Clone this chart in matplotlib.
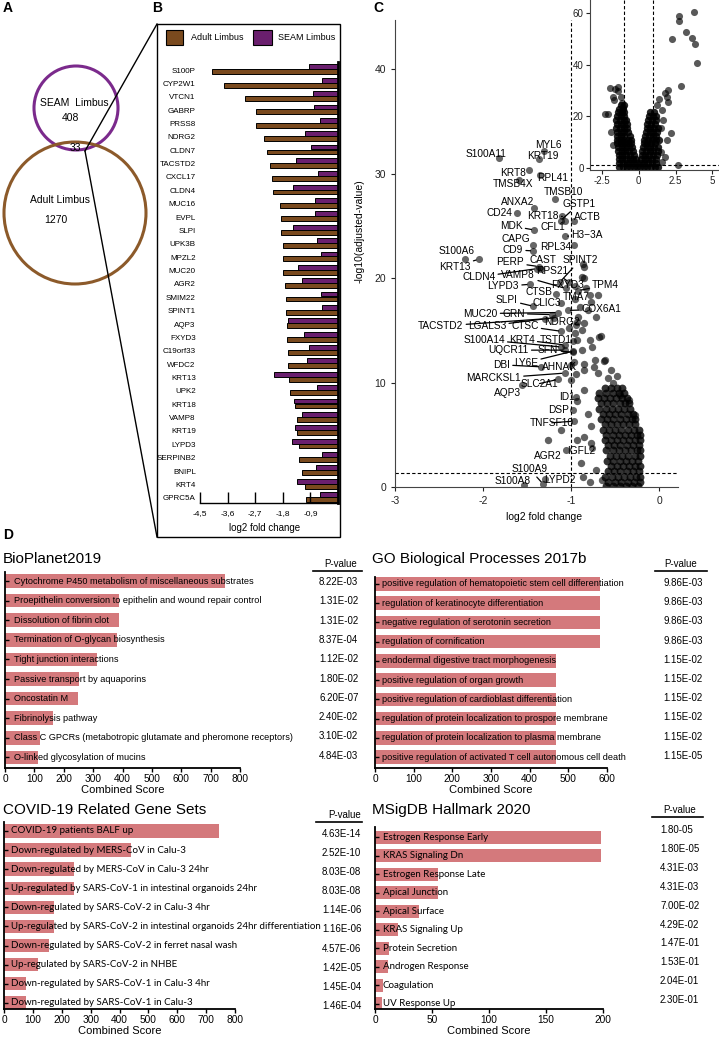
import numpy as np
import matplotlib
matplotlib.use('Agg')
import matplotlib.pyplot as plt
from matplotlib.patches import Circle, Rectangle

plt.rcParams['font.family'] = ['Liberation Sans', 'DejaVu Sans']
plt.rcParams['axes.unicode_minus'] = False

# ---------------- data ----------------
# A: Venn counts
seam_only = 408
overlap = 33
adult_only = 1270

# B: shared genes, log2 fold change
genes_B = ['S100P', 'CYP2W1', 'VTCN1', 'GABRP', 'PRSS8', 'NDRG2', 'CLDN7', 'TACSTD2',
           'CXCL17', 'CLDN4', 'MUC16', 'EVPL', 'SLPI', 'UPK3B', 'MPZL2', 'MUC20', 'AGR2',
           'SMIM22', 'SPINT1', 'AQP3', 'FXYD3', 'C19orf33', 'WFDC2', 'KRT13', 'UPK2',
           'KRT18', 'VAMP8', 'KRT19', 'LYPD3', 'SERPINB2', 'BNIPL', 'KRT4', 'GPRC5A']
adult_lfc = [-4.11, -3.73, -3.03, -2.67, -2.67, -2.40, -2.31, -2.22, -2.16, -2.11, -1.89,
             -1.87, -1.86, -1.79, -1.79, -1.79, -1.73, -1.68, -1.68, -1.66, -1.66, -1.62,
             -1.62, -1.59, -1.57, -1.39, -1.35, -1.33, -1.27, -1.27, -1.17, -1.06, -1.03]
seam_lfc = [-0.94, -0.52, -0.83, -0.79, -0.60, -1.06, -0.87, -1.37, -0.65, -1.48, -0.76,
            -0.76, -1.46, -0.70, -0.55, -1.30, -1.19, -0.57, -0.52, -1.62, -1.11, -0.94,
            -1.00, -2.09, -0.67, -1.44, -1.19, -1.41, -1.49, -0.52, -0.73, -1.33, -0.60]
b_ticks = [-4.5, -3.6, -2.7, -1.8, -0.9]
b_ticklabels = ['-4,5', '-3,6', '-2,7', '-1,8', '-0,9']

# C: labelled genes (point x, point y, label x, label y)
volcano_labels = [
    ('S100A11', -1.82, 31.5, -1.97, 31.9), ('MYL6', -1.31, 32.2, -1.26, 32.7),
    ('KRT19', -1.36, 31.4, -1.32, 31.7), ('KRT8', -1.48, 30.3, -1.66, 30.1),
    ('RPL41', -1.35, 29.9, -1.21, 29.6), ('TMSB4X', -1.59, 29.4, -1.66, 29.0),
    ('TMSB10', -1.18, 27.6, -1.09, 28.2), ('ANXA2', -1.42, 26.7, -1.61, 27.3),
    ('GSTP1', -1.12, 25.5, -0.91, 27.1), ('CD24', -1.61, 26.2, -1.81, 26.2),
    ('KRT18', -1.10, 25.9, -1.32, 25.9), ('ACTB', -0.97, 25.5, -0.81, 25.8),
    ('CFL1', -1.07, 25.5, -1.21, 24.85), ('MDK', -1.42, 24.6, -1.68, 25.0),
    ('H3\u22123A', -1.07, 24.0, -0.82, 24.1), ('CAPG', -1.43, 23.2, -1.63, 23.7),
    ('RPL34', -0.97, 23.2, -1.17, 23.0), ('CD9', -1.43, 22.6, -1.66, 22.7),
    ('S100A6', -2.21, 21.8, -2.30, 22.6), ('KRT13', -2.05, 21.8, -2.32, 21.1),
    ('PERP', -1.37, 21.1, -1.69, 21.5), ('CAST', -1.34, 20.9, -1.32, 21.7),
    ('SPINT2', -1.13, 19.6, -0.90, 21.7), ('CLDN4', -1.39, 20.9, -2.05, 20.1),
    ('VAMP8', -1.06, 19.0, -1.60, 20.3), ('RPS21', -1.02, 19.6, -1.22, 20.7),
    ('LYPD3', -1.47, 19.4, -1.77, 19.2), ('CTSB', -1.17, 18.5, -1.37, 18.7),
    ('FXYD3', -0.96, 19.2, -1.04, 19.3), ('TPM4', -0.92, 18.8, -0.61, 19.3),
    ('TMA7', -0.79, 18.4, -0.94, 18.2), ('SLPI', -1.43, 17.3, -1.73, 17.9),
    ('CLIC3', -1.12, 17.6, -1.28, 17.6), ('MUC20', -1.15, 16.7, -2.03, 16.6),
    ('GRN', -1.22, 16.5, -1.655, 16.6), ('COX6A1', -1.04, 16.9, -0.66, 17.0),
    ('NDRG2', -0.94, 15.5, -1.11, 15.8), ('TACSTD2', -1.30, 16.1, -2.48, 15.4),
    ('LGALS3', -1.20, 16.2, -1.955, 15.4), ('CTSC', -1.11, 14.9, -1.525, 15.4),
    ('S100A14', -1.11, 13.4, -1.99, 14.1), ('KRT4', -1.075, 13.6, -1.56, 14.1),
    ('TSTD1', -0.98, 14.0, -1.17, 14.1), ('UQCR11', -1.075, 13.1, -1.71, 13.1),
    ('SFN', -0.98, 12.9, -1.26, 13.1), ('DBI', -1.34, 11.5, -1.79, 11.7),
    ('LY6E', -0.98, 13.0, -1.51, 11.9), ('AHNAK', -1.00, 11.7, -1.13, 11.5),
    ('MARCKSL1', -1.075, 10.9, -1.88, 10.4), ('SLC2A1', -1.15, 10.3, -1.36, 9.9),
    ('AQP3', -1.56, 9.75, -1.72, 9.0), ('ID1', -0.95, 8.6, -1.045, 8.6),
    ('DSP', -0.98, 7.4, -1.14, 7.4), ('TNFSF10', -0.97, 6.3, -1.22, 6.15),
    ('IGFL2', -0.76, 3.7, -0.89, 3.4), ('AGR2', -1.06, 3.5, -1.26, 3.0),
    ('S100A9', -1.32, 0.3, -1.47, 1.7), ('S100A8', -1.54, 0.2, -1.67, 0.6),
    ('LYPD2', -1.30, 0.74, -1.13, 0.67),
]
# C: unlabelled genes, dense part given row by row (-log10 padj: log2FC values)
main_rows = {
    9.5: [-0.62, -0.55, -0.48, -0.42],
    9.0: [-0.68, -0.60, -0.53, -0.46, -0.40],
    8.5: [-0.70, -0.63, -0.56, -0.49, -0.42, -0.37],
    8.0: [-0.66, -0.59, -0.52, -0.45, -0.39, -0.34],
    7.5: [-0.68, -0.61, -0.54, -0.47, -0.40, -0.33],
    7.0: [-0.64, -0.57, -0.50, -0.43, -0.36, -0.30],
    6.5: [-0.66, -0.59, -0.52, -0.45, -0.38, -0.31, -0.27],
    6.0: [-0.62, -0.55, -0.48, -0.41, -0.34, -0.27],
    5.5: [-0.64, -0.57, -0.50, -0.43, -0.36, -0.29, -0.23],
    5.0: [-0.60, -0.53, -0.46, -0.39, -0.32, -0.25, -0.22],
    4.5: [-0.62, -0.55, -0.48, -0.41, -0.34, -0.27, -0.22],
    4.0: [-0.58, -0.51, -0.44, -0.37, -0.30, -0.23],
    3.5: [-0.60, -0.53, -0.46, -0.39, -0.32, -0.25, -0.22],
    3.0: [-0.56, -0.49, -0.42, -0.35, -0.28, -0.22],
    2.5: [-0.59, -0.52, -0.45, -0.38, -0.31, -0.24],
    2.0: [-0.55, -0.48, -0.41, -0.34, -0.27, -0.22],
    1.5: [-0.58, -0.51, -0.44, -0.37, -0.30, -0.23],
    1.0: [-0.62, -0.54, -0.47, -0.40, -0.33, -0.26, -0.22],
    0.5: [-0.58, -0.50, -0.43, -0.36, -0.29, -0.22],
    0.1: [-0.60, -0.52, -0.45, -0.38, -0.31, -0.24],
}
main_extra = [(-0.85, 21.1), (-0.88, 20.1), (-0.83, 19.0), (-0.70, 18.4), (-0.78, 17.7),
              (-0.72, 16.3), (-0.88, 15.0), (-0.68, 14.4), (-0.79, 14.1), (-0.85, 15.7),
              (-0.92, 16.3), (-0.62, 12.2), (-0.73, 12.2), (-0.88, 13.1), (-0.85, 11.2),
              (-0.70, 10.9), (-0.96, 14.7), (-0.93, 15.8), (-0.81, 16.9), (-0.87, 21.3),
              (-0.85, 20.0), (-0.66, 14.5), (-0.76, 13.4), (-0.93, 14.1), (-0.55, 11.2),
              (-0.48, 10.6), (-0.74, 11.5), (-0.85, 11.8), (-0.63, 12.1), (-0.44, 8.8),
              (-0.34, 8.3), (-0.27, 6.9), (-0.85, 9.3), (-0.93, 8.2), (-0.81, 7.0),
              (-0.78, 5.8), (-0.93, 4.5), (-0.85, 4.8), (-0.78, 4.2), (-0.89, 2.3),
              (-0.87, 1.0), (-0.72, 1.6), (-0.79, 0.5), (-0.65, 0.7), (-1.11, 5.5),
              (-1.26, 4.5), (-1.00, 10.2), (-0.95, 10.8), (-0.97, 12.0), (-1.02, 15.2),
              (-0.90, 17.2), (-0.96, 18.0), (-0.58, 10.4), (-0.52, 10.0)]
# C inset: all genes
inset_rows = {
    0.5: [-1.30, -1.05, -0.80, -0.55, -0.30, -0.10, 0.12, 0.35, 0.60, 0.85, 1.10, 1.30],
    2.0: [-1.30, -1.05, -0.80, -0.55, -0.30, -0.12, 0.15, 0.40, 0.65, 0.90, 1.15],
    3.5: [-1.35, -1.10, -0.85, -0.60, -0.35, -0.20, 0.18, 0.42, 0.67, 0.92, 1.20],
    5.0: [-1.35, -1.10, -0.85, -0.60, -0.30, 0.22, 0.46, 0.70, 0.95, 1.25],
    6.5: [-1.40, -1.15, -0.90, -0.65, -0.38, 0.25, 0.50, 0.75, 1.00, 1.30],
    8.0: [-1.40, -1.15, -0.90, -0.65, -0.42, 0.30, 0.55, 0.80, 1.05, 1.35],
    9.5: [-1.45, -1.20, -0.95, -0.70, -0.50, 0.35, 0.60, 0.85, 1.10],
    11.0: [-1.45, -1.20, -0.95, -0.70, -0.52, 0.40, 0.65, 0.90, 1.15, 1.40],
    12.5: [-1.45, -1.20, -0.95, -0.60, 0.45, 0.70, 0.95, 1.20],
    14.0: [-1.45, -1.20, -0.95, -0.68, 0.50, 0.75, 1.00, 1.25],
    15.5: [-1.50, -1.25, -1.00, -0.75, 0.55, 0.80, 1.05, 1.30],
    17.0: [-1.45, -1.20, -0.95, -0.80, 0.60, 0.85, 1.10],
    18.5: [-1.50, -1.25, -1.00, -0.85, 0.65, 0.90, 1.15],
    20.0: [-1.45, -1.20, -0.95, 0.70, 0.95, 1.20],
    21.5: [-1.40, -1.15, -0.95, 0.80, 1.05],
    23.0: [-1.30, -1.05],
    24.5: [-1.20, -1.00],
}
inset_extra = [(2.76, 58.7), (2.76, 56.9), (3.77, 60.5), (3.19, 52.6), (3.64, 50.3),
               (3.82, 48.1), (3.95, 40.8), (2.28, 50.1), (2.87, 31.6), (2.65, 1.0),
               (2.01, 30.1), (1.79, 29.0), (1.90, 27.3), (1.39, 26.6), (1.97, 25.6),
               (1.23, 24.4), (1.61, 22.4), (2.18, 13.4), (1.91, 10.8), (1.52, 6.3),
               (1.79, 4.4), (1.57, 2.4), (1.52, 15.4), (1.68, 18.6), (-1.93, 30.8),
               (-1.59, 30.4), (-1.36, 31.2), (-1.41, 29.9), (-1.64, 26.3), (-1.14, 25.0),
               (-1.03, 23.7), (-2.26, 20.8), (-2.08, 20.8), (-1.70, 8.9), (-1.75, 27.5),
               (-1.20, 27.5), (-1.85, 14.0)]

# D: enrichment results
bio_terms = ['Cytochrome P450 metabolism of miscellaneous substrates',
             'Proepithelin conversion to epithelin and wound repair control',
             'Dissolution of fibrin clot', 'Termination of O-glycan biosynthesis',
             'Tight junction interactions', 'Passive transport by aquaporins', 'Oncostatin M',
             'Fibrinolysis pathway',
             'Class C GPCRs (metabotropic glutamate and pheromone receptors)',
             'O-linked glycosylation of mucins']
bio_scores = [750, 388, 388, 380, 312, 252, 249, 164, 119, 111]
bio_p = ['8.22E-03', '1.31E-02', '1.31E-02', '8.37E-04', '1.12E-02', '1.80E-02',
         '6.20E-07', '2.40E-02', '3.10E-02', '4.84E-03']

go_terms = ['positive regulation of hematopoietic stem cell differentiation',
            'regulation of keratinocyte differentiation',
            'negative regulation of serotonin secretion', 'regulation of cornification',
            'endodermal digestive tract morphogenesis',
            'positive regulation of organ growth',
            'positive regulation of cardioblast differentiation',
            'regulation of protein localization to prospore membrane',
            'regulation of protein localization to plasma membrane',
            'positive regulation of activated T cell autonomous cell death']
go_scores = [581, 581, 581, 581, 468, 468, 468, 468, 468, 468]
go_p = ['9.86E-03', '9.86E-03', '9.86E-03', '9.86E-03', '1.15E-02', '1.15E-02',
        '1.15E-02', '1.15E-02', '1.15E-02', '1.15E-05']

covid_terms = ['COVID-19 patients BALF up', 'Down-regulated by MERS-CoV in Calu-3',
               'Down-regulated by MERS-CoV in Calu-3 24hr',
               'Up-regulated by SARS-CoV-1 in intestinal organoids 24hr',
               'Down-regulated by SARS-CoV-2 in Calu-3 4hr',
               'Up-regulated by SARS-CoV-2 in intestinal organoids 24hr differentiation',
               'Down-regulated by SARS-CoV-2 in ferret nasal wash',
               'Up-regulated by SARS-CoV-2 in NHBE',
               'Down-regulated by SARS-CoV-1 in Calu-3 4hr',
               'Down-regulated by SARS-CoV-1 in Calu-3']
covid_scores = [746, 440, 242, 242, 173, 173, 157, 119, 76, 76]
covid_p = ['4.63E-14', '2.52E-10', '8.03E-08', '8.03E-08', '1.14E-06', '1.16E-06',
           '4.57E-06', '1.42E-05', '1.45E-04', '1.46E-04']

msig_terms = ['Estrogen Response Early', 'KRAS Signaling Dn', 'Estrogen Response Late',
              'Apical Junction', 'Apical Surface', 'KRAS Signaling Up', 'Protein Secretion',
              'Androgen Response', 'Coagulation', 'UV Response Up']
msig_scores = [198, 198, 54.9, 54.9, 38.8, 20.4, 12.6, 11.7, 7.3, 5.8]
msig_p = ['1.80-05', '1.80E-05', '4.31E-03', '4.31E-03', '7.00E-02', '4.29E-02',
          '1.47E-01', '1.53E-01', '2.04E-01', '2.30E-01']

# ---------------- colours ----------------
venn_purple = '#7b2a8c'
venn_brown = '#8c5a2a'
adult_col = '#7a4a1e'
seam_col = '#6a1f6e'
bar_red = '#d4797c'
narrow = ['Liberation Sans Narrow', 'Liberation Sans']

# ---------------- figure ----------------
W, H = 719, 1039
fig = plt.figure(figsize=(W / 100, H / 100), dpi=100)


def box(l, t, r, b):
    # pixel box (top-left origin) -> figure fraction rect
    return [l / W, 1 - b / H, (r - l) / W, (b - t) / H]


# overlay in pixel coordinates for venn, frames, titles, p-value columns
ov = fig.add_axes([0, 0, 1, 1], zorder=10)
ov.set_xlim(0, W)
ov.set_ylim(H, 0)
ov.axis('off')

for lab, x, y in [('A', 8, 8), ('B', 157, 8), ('C', 378, 8), ('D', 8, 535)]:
    ov.text(x, y, lab, ha='center', va='center', fontsize=10, weight='bold')

# Panel A
ov.add_patch(Circle((76, 108), 42, fill=False, ec=venn_purple, lw=2.2))
ov.add_patch(Circle((75, 213), 71, fill=False, ec=venn_brown, lw=2.2))
ov.text(74, 103, 'SEAM  Limbus', ha='center', va='center', fontsize=7.5)
ov.text(70, 118, str(seam_only), ha='center', va='center', fontsize=7.5)
ov.text(75, 148, str(overlap), ha='center', va='center', fontsize=7.5)
ov.text(60, 200, 'Adult Limbus', ha='center', va='center', fontsize=7.5)
ov.text(56, 220, str(adult_only), ha='center', va='center', fontsize=7.5)

# zoom lines and frame of B
ov.plot([85, 157], [151, 24], color='k', lw=1)
ov.plot([85, 157], [151, 537], color='k', lw=1)
ov.add_patch(Rectangle((157, 24), 183, 513, fill=False, ec='k', lw=1))

# legend of B
ov.add_patch(Rectangle((166, 30), 17, 15, fc=adult_col, ec='k', lw=0.8))
ov.text(191, 37.5, 'Adult Limbus', va='center', fontsize=6.5)
ov.add_patch(Rectangle((253, 30), 19, 15, fc=seam_col, ec='k', lw=0.8))
ov.text(278, 37.5, 'SEAM Limbus', va='center', fontsize=6.5)

# Panel B
axB = fig.add_axes(box(200, 62, 338, 503))
rows = np.arange(len(genes_B))
axB.barh(rows - 0.24, seam_lfc, height=0.36, color=seam_col, ec='k', lw=0.7)
axB.barh(rows + 0.13, adult_lfc, height=0.36, color=adult_col, ec='k', lw=0.7)
axB.set_xlim(-4.5, 0)
axB.set_ylim(32.39, -0.6)
axB.spines['top'].set_visible(False)
axB.spines['left'].set_visible(False)
axB.spines['right'].set_linewidth(2)
axB.spines['bottom'].set_linewidth(1)
axB.set_yticks(rows)
axB.set_yticklabels(genes_B, family=narrow, fontsize=5.8)
axB.tick_params(axis='y', length=0, pad=3)
axB.set_xticks(b_ticks)
axB.set_xticklabels(b_ticklabels, family=narrow, fontsize=6)
axB.tick_params(axis='x', direction='in', length=8, width=1, pad=5)
axB.set_xlabel('log2 fold change', fontsize=7)
axB.xaxis.set_label_coords(0.471, -0.045)

# Panel C main volcano
axC = fig.add_axes(box(395, 20, 678, 487))
rx = [x for y, xs in main_rows.items() for x in xs]
ry = [y for y, xs in main_rows.items() for x in xs]
axC.scatter(rx, ry, s=32, c='k', alpha=0.8, lw=0)
axC.scatter([p[0] for p in main_extra], [p[1] for p in main_extra],
            s=28, c='k', alpha=0.62, lw=0)
axC.scatter([v[1] for v in volcano_labels], [v[2] for v in volcano_labels],
            s=26, c='k', alpha=0.6, lw=0)
axC.axvline(-1, ls=(0, (3, 2)), lw=0.8, color='k')
axC.axhline(1.3, ls=(0, (3, 2)), lw=0.8, color='k')
axC.set_xlim(-2.97, 0.213)
axC.set_ylim(0, 44.7)
axC.set_xticks([-3, -2, -1, 0])
axC.set_yticks([0, 10, 20, 30, 40])
for sp in ['top', 'right']:
    axC.spines[sp].set_visible(False)
for sp in ['left', 'bottom']:
    axC.spines[sp].set_color('#444444')
axC.tick_params(length=3, width=0.8, labelsize=7.5, colors='#222222')
axC.set_xlabel('log2 fold change', fontsize=7.5)
axC.xaxis.set_label_coords(0.527, -0.054)
axC.set_ylabel('-log10(adjusted-value)', fontsize=7.5)
axC.yaxis.set_label_coords(-0.108, 0.548)
for name, px, py, lx, ly in volcano_labels:
    dist = np.hypot((lx - px) * 89, (ly - py) * 10.45)
    if dist > 19:
        axC.annotate(name, (px, py), xytext=(lx, ly), fontsize=7.3, ha='center',
                     va='center', arrowprops=dict(arrowstyle='-', color='k', lw=0.9,
                                                  shrinkA=0, shrinkB=2))
    else:
        axC.text(lx, ly, name, fontsize=7.3, ha='center', va='center')

# Panel C inset
axI = fig.add_axes(box(590, 0, 719, 170))
ix = [x for y, xs in inset_rows.items() for x in xs]
iy = [y for y, xs in inset_rows.items() for x in xs]
axI.scatter(ix, iy, s=28, c='k', alpha=0.85, lw=0)
axI.scatter([p[0] for p in inset_extra], [p[1] for p in inset_extra],
            s=26, c='k', alpha=0.65, lw=0)
for xv in (-1, 1):
    axI.axvline(xv, ls=(0, (3, 2)), lw=0.8, color='k')
axI.axhline(1.3, ls=(0, (3, 2)), lw=0.8, color='k')
axI.set_xlim(-3.28, 5.44)
axI.set_ylim(-0.77, 65)
axI.set_xticks([-2.5, 0, 2.5, 5])
axI.set_xticklabels(['-2.5', '0', '2.5', '5'])
axI.set_yticks([0, 20, 40, 60])
for sp in ['top', 'right']:
    axI.spines[sp].set_visible(False)
for sp in ['left', 'bottom']:
    axI.spines[sp].set_color('#444444')
axI.tick_params(length=3, width=0.8, labelsize=7, colors='#222222', pad=1.5)


# Panel D
def enrich_panel(rect, ylim, xmax, xstep, terms, scores, font, size, offset):
    ax = fig.add_axes(box(*rect))
    y = np.arange(len(terms))
    ax.barh(y, scores, height=0.7, color=bar_red)
    ax.set_ylim(*ylim)
    ax.set_xlim(0, xmax)
    for sp in ['top', 'right']:
        ax.spines[sp].set_visible(False)
    for sp in ['left', 'bottom']:
        ax.spines[sp].set_linewidth(1.3)
    ax.set_yticks(y)
    ax.set_yticklabels([])
    ax.tick_params(axis='y', direction='in', length=3, width=1)
    ax.set_xticks(np.arange(0, xmax + 1, xstep))
    ax.tick_params(axis='x', direction='out', length=3, width=1, labelsize=7.3, pad=1)
    ax.set_xlabel('Combined Score', fontsize=8, labelpad=1)
    for yi, t in zip(y, terms):
        ax.annotate(t, (0, yi), xytext=(offset, 0), textcoords='offset points',
                    ha='left', va='center', fontsize=size, family=font,
                    annotation_clip=False)
    return ax


def pvalue_column(hx, hy, x0, x1, ly, vx, vy0, step, vals):
    ov.text(hx, hy, 'P-value', ha='center', va='center', fontsize=7)
    ov.plot([x0, x1], [ly, ly], color='k', lw=1.2)
    for i, v in enumerate(vals):
        ov.text(vx, vy0 + i * step, v, ha='left', va='center', fontsize=7)


enrich_panel((5, 572, 240, 768), (9.54, -0.46), 800, 100, bio_terms, bio_scores,
             'Liberation Sans', 6.6, 6.5)
ov.text(3, 559, 'BioPlanet2019', va='center', fontsize=11)
pvalue_column(341, 564, 313, 362, 571, 319, 582, 19.3, bio_p)

enrich_panel((375, 577, 607, 768), (9.57, -0.36), 600, 100, go_terms, go_scores,
             'Liberation Sans', 6.6, 5)
ov.text(372, 559, 'GO Biological Processes 2017b', va='center', fontsize=11)
pvalue_column(681, 564, 655, 707, 571, 663, 583, 19.2, go_p)

enrich_panel((4, 822, 235, 1009), (9.32, -0.47), 800, 100, covid_terms, covid_scores,
             'Lato', 7.0, 5)
ov.text(3, 810, 'COVID-19 Related Gene Sets', va='center', fontsize=11)
pvalue_column(345, 815, 316, 362, 822, 322, 834, 19.1, covid_p)

enrich_panel((375, 827, 603, 1009), (9.27, -0.54), 200, 50, msig_terms, msig_scores,
             'Lato', 7, 5.5)
ov.text(372, 810, 'MSigDB Hallmark 2020', va='center', fontsize=11)
pvalue_column(680, 810, 652, 703, 817, 660, 830, 18.9, msig_p)

fig.savefig('out.png', dpi=100)
